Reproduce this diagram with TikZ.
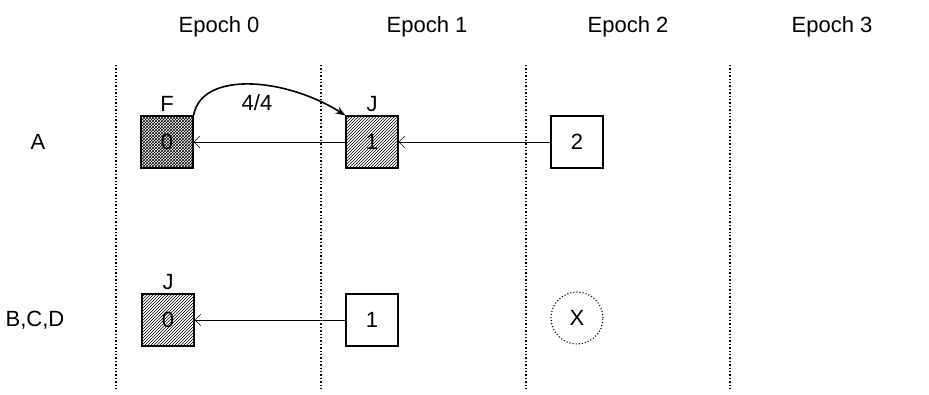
\documentclass[tikz,border=0pt]{standalone}
\usepackage{fontspec}
\setmainfont{Liberation Sans}
\usetikzlibrary{arrows.meta,patterns,positioning}
\tikzset{
  >={Straight Barb[length=2mm]},
  letra/.style={font=\fontsize{22}{26}\selectfont},
  caja/.style={draw, line width=1.1pt, minimum size=52pt, inner sep=0pt, letra},
  flecha/.style={->, semithick},
  division/.style={dotted, line width=1.4pt},
}

\begin{document}
\begin{tikzpicture}[x=1pt, y=-1pt]
  \useasboundingbox (0,0) rectangle (929,394);
  % columnas
  \foreach \i/\x in {0/219,1/427,2/628,3/832}
    \node[letra] (epoca\i) at (\x,27) {Epoch \i};
  \foreach \x in {116,321,526,730}
    \draw[division] (\x,65) -- (\x,390);
  % filas
  \node[letra] (filaA) at (38,142) {A};
  \node[letra] (filaB) at (35,320) {B,C,D};
  \node[caja, pattern=crosshatch] (a0) at (167,142) {0};
  \node[caja, pattern=north east lines] (a1) at (372,142) {1};
  \node[caja] (a2) at (577,142) {2};
  \node[caja, pattern=north east lines] (b0) at (168,320) {0};
  \node[caja] (b1) at (372,320) {1};
  \node[circle, draw, dotted, line width=1.1pt, minimum size=52pt, letra] (b2) at (577,318) {X};
  \node[letra, above=0pt of a0] (ta0) {F};
  \node[letra, above=0pt of a1] (ta1) {J};
  \node[letra, above=0pt of b0] (tb0) {J};
  % enlaces
  \draw[flecha] (a2) -- (a1);
  \draw[flecha] (a1) -- (a0);
  \draw[flecha] (b1) -- (b0);
  \draw[-{Stealth[length=3.5mm]}, line width=1.6pt] (a0.north east)
    .. controls +(8,-45) and +(-60,-38) .. (a1.north west);
  \node[letra] (peso) at (257,103) {4/4};
\end{tikzpicture}
\end{document}
